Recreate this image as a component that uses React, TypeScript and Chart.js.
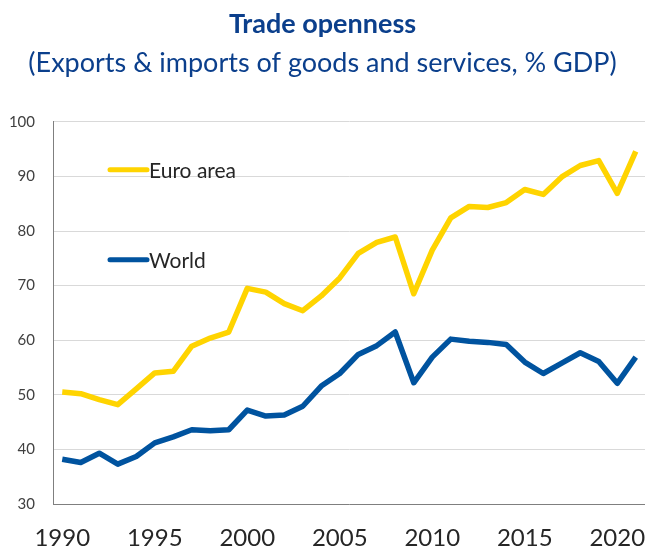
import React, { useEffect, useRef } from "react";
import { Chart, registerables } from "chart.js";

Chart.register(...registerables);

const years: string[] = [
  "1990", "1991", "1992", "1993", "1994", "1995", "1996", "1997", "1998", "1999",
  "2000", "2001", "2002", "2003", "2004", "2005", "2006", "2007", "2008", "2009",
  "2010", "2011", "2012", "2013", "2014", "2015", "2016", "2017", "2018", "2019",
  "2020", "2021",
];

const euroArea: number[] = [
  50.5, 50.2, 49.1, 48.2, 51.1, 54.0, 54.3, 58.9, 60.4, 61.5,
  69.5, 68.8, 66.7, 65.4, 68.1, 71.4, 75.9, 77.9, 78.9, 68.5,
  76.5, 82.4, 84.5, 84.3, 85.2, 87.6, 86.7, 89.9, 92.0, 92.9,
  86.9, 94.6,
];

const world: number[] = [
  38.2, 37.6, 39.3, 37.3, 38.7, 41.2, 42.3, 43.6, 43.4, 43.6,
  47.2, 46.1, 46.3, 47.9, 51.6, 53.9, 57.4, 59.0, 61.5, 52.2,
  56.9, 60.2, 59.8, 59.6, 59.2, 56.0, 53.9, 55.8, 57.7, 56.1,
  52.1, 56.9,
];

const yTicks: number[] = [30, 40, 50, 60, 70, 80, 90, 100];
const xTickLabels: string[] = ["1990", "1995", "2000", "2005", "2010", "2015", "2020"];

const seriesNames: string[] = ["Euro area", "World"];
const YELLOW = "#FFD400";
const BLUE = "#00539F";
const TITLE_BLUE = "#0B3F8C";
const FONT = "Lato, 'Open Sans', sans-serif";

const insideLegend = {
  id: "insideLegend",
  afterDatasetsDraw(chart: any) {
    const { ctx, chartArea } = chart;
    const items = [
      { label: seriesNames[0], color: YELLOW, y: chartArea.top + 48 },
      { label: seriesNames[1], color: BLUE, y: chartArea.top + 138 },
    ];
    ctx.save();
    items.forEach((it) => {
      const x0 = chartArea.left + 57;
      const x1 = chartArea.left + 94;
      ctx.beginPath();
      ctx.strokeStyle = it.color;
      ctx.lineWidth = 5;
      ctx.lineCap = "round";
      ctx.moveTo(x0, it.y);
      ctx.lineTo(x1, it.y);
      ctx.stroke();
      ctx.fillStyle = "#262626";
      ctx.font = `21px ${FONT}`;
      ctx.textBaseline = "middle";
      ctx.textAlign = "left";
      ctx.fillText(it.label, x1 + 2, it.y + 1);
    });
    ctx.restore();
  },
};

export default function App() {
  const canvasRef = useRef<HTMLCanvasElement | null>(null);

  useEffect(() => {
    document.body.style.margin = "0";
    const canvas = canvasRef.current;
    if (!canvas) return;
    const chart = new Chart(canvas, {
      type: "line",
      data: {
        labels: years,
        datasets: [
          {
            label: seriesNames[0],
            data: euroArea,
            borderColor: YELLOW,
            backgroundColor: YELLOW,
            borderWidth: 5.5,
            pointRadius: 0,
            tension: 0,
            borderJoinStyle: "round",
          },
          {
            label: seriesNames[1],
            data: world,
            borderColor: BLUE,
            backgroundColor: BLUE,
            borderWidth: 5.5,
            pointRadius: 0,
            tension: 0,
            borderJoinStyle: "round",
          },
        ],
      },
      options: {
        animation: false,
        responsive: false,
        maintainAspectRatio: false,
        layout: { padding: { top: 0, right: 0, left: 0, bottom: 0 } },
        plugins: {
          legend: { display: false },
          tooltip: { enabled: false },
          title: {
            display: true,
            text: "Trade openness",
            color: TITLE_BLUE,
            font: { family: FONT, size: 27, weight: "bold", lineHeight: 1.2 },
            padding: { top: 8, bottom: 4 },
          },
          subtitle: {
            display: true,
            text: "(Exports & imports of goods and services, % GDP)",
            color: TITLE_BLUE,
            font: { family: FONT, size: 27, weight: "normal", lineHeight: 1.2 },
            padding: { top: 3, bottom: 42 },
          },
        },
        scales: {
          x: {
            type: "category",
            offset: true,
            grid: {
              display: false,
              drawTicks: true,
              tickLength: 18,
              tickColor: "rgba(0,0,0,0)",
            },
            border: { display: true, color: "#7f7f7f", width: 1 },
            ticks: {
              autoSkip: false,
              maxRotation: 0,
              minRotation: 0,
              padding: 2,
              color: "#262626",
              font: { family: FONT, size: 24 },
              callback: function (_v: any, i: number) {
                const lbl = years[i];
                return xTickLabels.includes(lbl) ? lbl : "";
              },
            },
            afterFit: (scale: any) => {
              scale.height = 46;
            },
          },
          y: {
            min: 30,
            max: 100,
            afterBuildTicks: (scale: any) => {
              scale.ticks = yTicks.map((v) => ({ value: v }));
            },
            grid: { color: "#d9d9d9", lineWidth: 1, drawTicks: false },
            border: { display: true, color: "#7f7f7f", width: 1 },
            ticks: {
              padding: 18,
              color: "#404040",
              font: { family: FONT, size: 15 },
            },
            afterFit: (scale: any) => {
              scale.width = 53;
            },
          },
        },
      },
      plugins: [insideLegend],
    });
    return () => chart.destroy();
  }, []);

  return (
    <div style={{ width: 645, height: 550 }}>
      <canvas ref={canvasRef} width={645} height={550} style={{ display: "block" }} />
    </div>
  );
}
